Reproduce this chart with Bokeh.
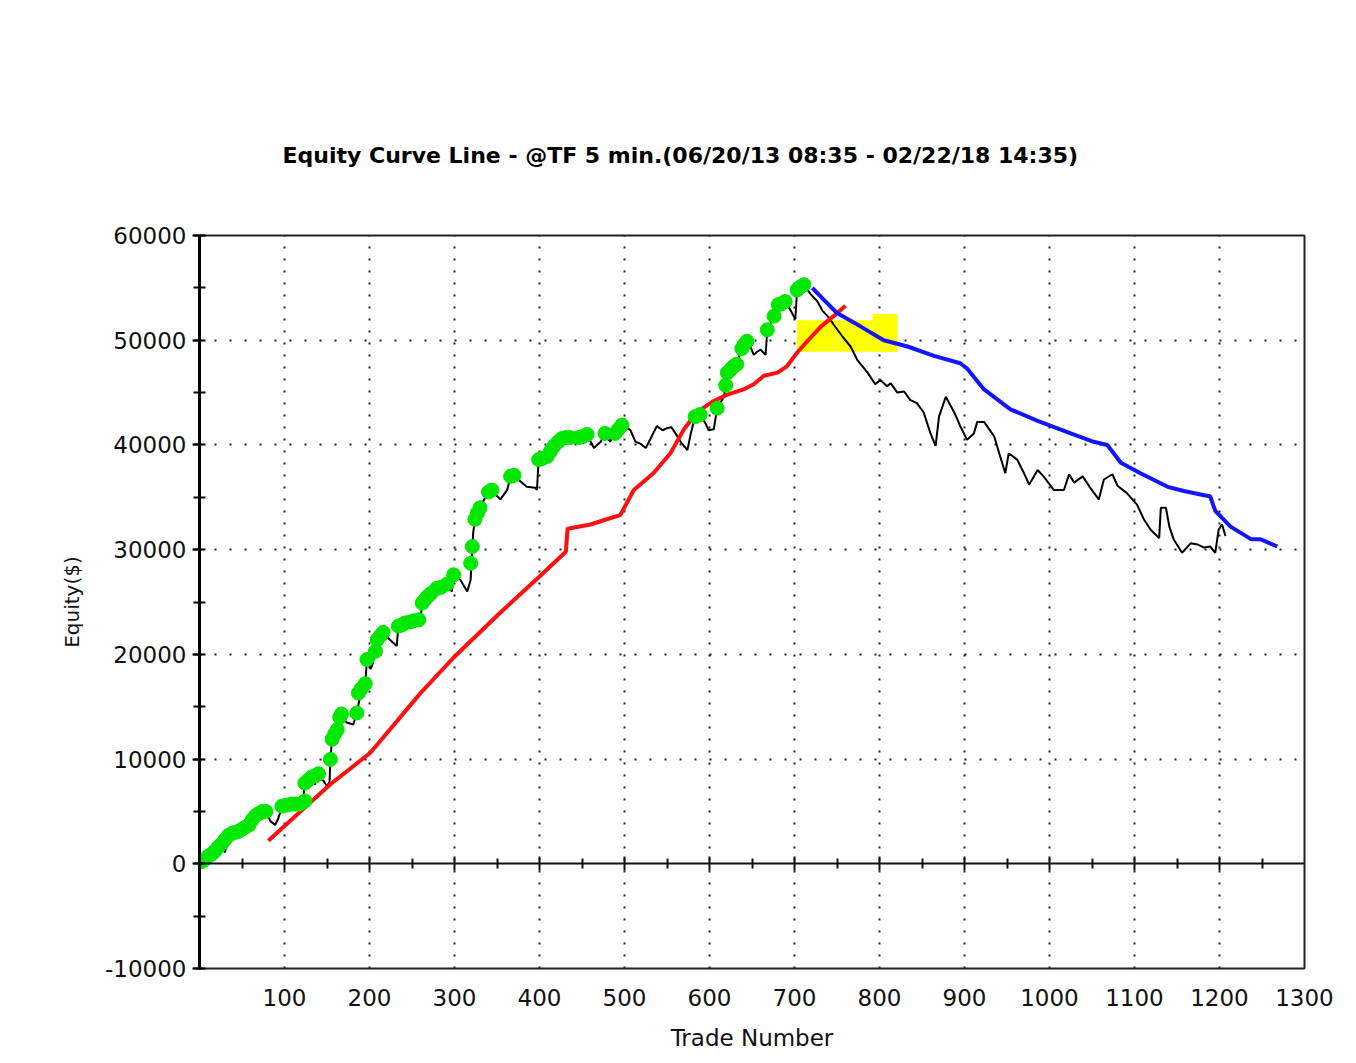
from bokeh.plotting import figure
from bokeh.models import LinearAxis, FixedTicker, SingleIntervalTicker, Range1d, Grid
from bokeh.embed import file_html
from bokeh.resources import INLINE

# ---- data ----
trade = [0, 4, 8, 12, 16, 20, 24, 28, 30, 32, 38, 44, 52, 58, 65, 72, 79, 83, 89, 92, 95, 97,
         107, 112, 118, 122, 123, 124, 130, 136, 138, 142, 146, 150, 153, 154, 156, 162, 166,
         170, 173, 181, 185, 189, 195, 197, 201, 203, 207, 209, 216, 224, 232, 234, 248, 254,
         260, 262, 268, 275, 279, 291, 297, 299, 307, 315, 319, 320, 321, 322, 324, 330, 340,
         344, 349, 354, 362, 366, 375, 385, 395, 397, 399, 409, 417, 426, 436, 446, 456, 464,
         472, 477, 483, 489, 497, 502, 507, 513, 519, 525, 530, 538, 545, 550, 555, 560, 566,
         574, 578, 583, 589, 595, 599, 605, 609, 617, 619, 621, 628, 632, 638, 644, 648, 652,
         656, 660, 666, 668, 676, 681, 689, 695, 701, 703, 711, 719, 727, 733, 740, 746, 756,
         766, 774, 780, 786, 795, 801, 809, 813, 821, 829, 836, 844, 852, 860, 866, 870, 878,
         888, 895, 903, 911, 915, 923, 935, 942, 948, 952, 962, 970, 976, 986, 993, 1005, 1017,
         1023, 1029, 1039, 1048, 1058, 1064, 1074, 1080, 1091, 1103, 1111, 1119, 1129, 1131,
         1137, 1141, 1146, 1156, 1166, 1174, 1182, 1189, 1195, 1199, 1203, 1207]
equity = [0, 300, 200, 700, 900, 1200, 1700, 1500, 1100, 1900, 2800, 2900, 3300, 3600, 4500,
          4800, 5000, 4100, 3700, 4200, 4900, 5500, 5700, 5500, 5700, 5900, 7100, 7700, 8100,
          7600, 8500, 8200, 7900, 7400, 7800, 9970, 11900, 12800, 14100, 13800, 13500, 13300,
          14400, 16000, 17200, 19500, 18600, 18900, 20300, 21400, 22100, 21400, 20800, 22700,
          23100, 22700, 23300, 24900, 25500, 25200, 26300, 26700, 26000, 27600, 27100, 26000,
          27100, 28700, 30300, 31600, 32900, 34000, 35600, 35700, 35200, 34800, 35700, 37000,
          36700, 36000, 35900, 35700, 38600, 38900, 39900, 40600, 40700, 40700, 41000, 39700,
          40300, 41100, 40300, 41100, 41900, 41700, 41400, 40300, 40100, 39700, 40500, 41800,
          41400, 41600, 41700, 41100, 40300, 39500, 41100, 42700, 42900, 42100, 41400, 41500,
          43500, 44600, 45700, 46900, 47500, 47700, 49200, 49900, 49400, 48600, 48900, 49100,
          48600, 51000, 52300, 53400, 53700, 52900, 52000, 54800, 55300, 54400, 53700, 52800,
          52200, 51500, 50400, 49400, 48100, 47500, 46900, 45800, 46200, 45600, 45900, 45000,
          45100, 44300, 44000, 43100, 41100, 39900, 42700, 44600, 43100, 41800, 40500, 41100,
          42200, 42200, 40800, 38900, 37300, 39200, 38600, 37300, 36200, 37600, 37000, 35700,
          35700, 37200, 36400, 37000, 35900, 34800, 36700, 37200, 36100, 35400, 34300, 32900,
          31900, 31100, 34000, 34000, 32200, 31000, 29700, 30600, 30500, 30200, 30300, 29700,
          31900, 32400, 31300]

high_trade = [2, 6, 10, 14, 18, 22, 26, 30, 34, 38, 42, 46, 50, 54, 58, 62, 66, 70, 74, 78, 97,
              103, 108, 113, 118, 124, 124, 128, 132, 136, 140, 154, 156, 159, 162, 165, 167,
              185, 187, 190, 195, 197, 207, 209, 213, 216, 234, 238, 242, 248, 252, 258, 262,
              265, 268, 272, 279, 284, 291, 299, 319, 321, 324, 327, 330, 340, 344, 366, 370,
              399, 403, 409, 413, 417, 422, 426, 431, 436, 446, 451, 456, 477, 489, 493, 497,
              583, 589, 609, 619, 621, 625, 628, 632, 638, 641, 644, 668, 676, 681, 685, 689,
              703, 707, 711]
high_equity = [200, 400, 700, 900, 1200, 1600, 1900, 2300, 2700, 2900, 3000, 3100, 3300, 3500,
               3700, 4200, 4600, 4800, 5000, 5000, 5500, 5600, 5700, 5700, 5700, 6000, 7700,
               8000, 8300, 8400, 8600, 9970, 11900, 12400, 12800, 14000, 14300, 14400, 16300,
               16700, 17200, 19500, 20300, 21400, 21800, 22100, 22700, 22800, 23000, 23100,
               23200, 23300, 24900, 25200, 25500, 25800, 26300, 26400, 26700, 27600, 28700,
               30300, 32900, 33500, 34000, 35500, 35700, 37000, 37100, 38600, 38700, 38900,
               39400, 39900, 40300, 40600, 40700, 40700, 40700, 40800, 41000, 41100, 41100,
               41500, 41900, 42700, 42900, 43500, 45700, 46900, 47200, 47500, 47700, 49200,
               49600, 49900, 51000, 52300, 53400, 53500, 53700, 54800, 55100, 55300]

red_trade = [81, 154, 201, 260, 299, 354, 401, 431, 433, 460, 479, 495, 511, 534, 554, 570,
             585, 605, 621, 640, 652, 664, 680, 691, 703, 715, 731, 746, 760]
red_equity = [2200, 7600, 10600, 16300, 19700, 24000, 27500, 29800, 32000, 32400, 32900,
              33300, 35700, 37300, 39200, 41500, 43100, 44200, 44800, 45300, 45800, 46600,
              46900, 47500, 48800, 49900, 51300, 52300, 53300]

blue_trade = [721, 734, 750, 778, 805, 833, 864, 895, 903, 923, 954, 986, 1025, 1052, 1068,
              1084, 1107, 1139, 1158, 1182, 1189, 1195, 1213, 1237, 1248, 1268]
blue_equity = [55000, 53900, 52600, 51300, 50000, 49400, 48500, 47800, 47300, 45300, 43400,
               42300, 41100, 40300, 40000, 38300, 37300, 36000, 35600, 35200, 35100, 33700,
               32200, 31000, 31000, 30300]

zone_left = [703, 792]
zone_right = [821, 821]
zone_bottom = [48900, 48900]
zone_top = [51900, 52500]

x_labels = [100, 200, 300, 400, 500, 600, 700, 800, 900, 1000, 1100, 1200, 1300]
x_grid_ticks = [100, 200, 300, 400, 500, 600, 700, 800, 900, 1000, 1100, 1200]
x_minor_ticks = [50, 150, 250, 350, 450, 550, 650, 750, 850, 950, 1050, 1150, 1250]
y_labels = [-10000, 0, 10000, 20000, 30000, 40000, 50000, 60000]
y_grid_ticks = [10000, 20000, 30000, 40000, 50000]

FONT = "DejaVu Sans"

p = figure(width=1348, height=1058, output_backend="svg", toolbar_location=None,
           x_range=Range1d(0, 1300), y_range=Range1d(-10000, 60000),
           x_axis_type=None, y_axis_type=None,
           min_border_left=199, min_border_right=44, min_border_top=235, min_border_bottom=90)
p.background_fill_color = "white"
p.border_fill_color = "white"
p.outline_line_color = "#222222"
p.outline_line_width = 2

p.title.text = "Equity Curve Line - @TF 5 min.(06/20/13 08:35 - 02/22/18 14:35)"
p.title.text_font = FONT
p.title.text_font_style = "bold"
p.title.text_font_size = "22px"
p.title.text_color = "black"
p.title.align = "left"
p.title.offset = 83
p.title.standoff = 135

# y axis
yax = LinearAxis(ticker=SingleIntervalTicker(interval=10000, num_minor_ticks=2),
                 axis_label="Equity($)")
yax.major_label_overrides = {v: str(v) for v in y_labels}
yax.axis_line_color = "black"
yax.axis_line_width = 3
yax.major_tick_line_color = "black"
yax.major_tick_line_width = 2
yax.major_tick_out = 7
yax.major_tick_in = 2
yax.minor_tick_line_color = "black"
yax.minor_tick_line_width = 2
yax.minor_tick_out = 6
yax.minor_tick_in = 6
yax.major_label_standoff = 6
yax.major_label_text_font = FONT
yax.major_label_text_font_size = "23px"
yax.major_label_text_color = "#111111"
yax.axis_label_text_font = FONT
yax.axis_label_text_font_size = "20px"
yax.axis_label_text_font_style = "normal"
yax.axis_label_text_color = "#111111"
yax.axis_label_standoff = 18
p.add_layout(yax, "left")

# bottom labels axis
xax = LinearAxis(ticker=FixedTicker(ticks=x_labels), axis_label="Trade Number")
xax.axis_line_color = None
xax.major_tick_line_color = None
xax.minor_tick_line_color = None
xax.major_label_standoff = 14
xax.major_label_text_font = FONT
xax.major_label_text_font_size = "23px"
xax.major_label_text_color = "#111111"
xax.axis_label_text_font = FONT
xax.axis_label_text_font_size = "23px"
xax.axis_label_text_font_style = "normal"
xax.axis_label_text_color = "#111111"
xax.axis_label_standoff = 16
p.add_layout(xax, "below")

# zero line axis
zax = LinearAxis(fixed_location=0, ticker=FixedTicker(ticks=x_grid_ticks, minor_ticks=x_minor_ticks))
zax.axis_line_color = "#111111"
zax.axis_line_width = 2
zax.major_tick_line_color = "#111111"
zax.major_tick_line_width = 2
zax.major_tick_in = 7
zax.major_tick_out = 7
zax.minor_tick_line_color = "#111111"
zax.minor_tick_line_width = 2
zax.minor_tick_in = 5
zax.minor_tick_out = 5
zax.major_label_text_font_size = "0px"
zax.major_label_text_color = None
zax.major_label_standoff = 0
p.add_layout(zax, "above")

# grids
xg = Grid(dimension=0, ticker=FixedTicker(ticks=x_grid_ticks))
xg.grid_line_color = "#222222"
xg.grid_line_width = 2
xg.grid_line_dash = "2 10"
p.add_layout(xg)
yg = Grid(dimension=1, ticker=FixedTicker(ticks=y_grid_ticks))
yg.grid_line_color = "#222222"
yg.grid_line_width = 2
yg.grid_line_dash = "2 13"
p.add_layout(yg)

# marks
p.quad(left=zone_left, right=zone_right, bottom=zone_bottom, top=zone_top,
       fill_color="#FFFF00", line_color=None)
p.line(trade, equity, line_color="black", line_width=2)
p.line(red_trade, red_equity, line_color="#FF1010", line_width=4)
p.line(blue_trade, blue_equity, line_color="#1414FF", line_width=4)
p.scatter(high_trade, high_equity, marker="circle", size=14, fill_color="#00E800",
          line_color="#00E800")

open("out.html", "w").write(file_html(p, INLINE))
